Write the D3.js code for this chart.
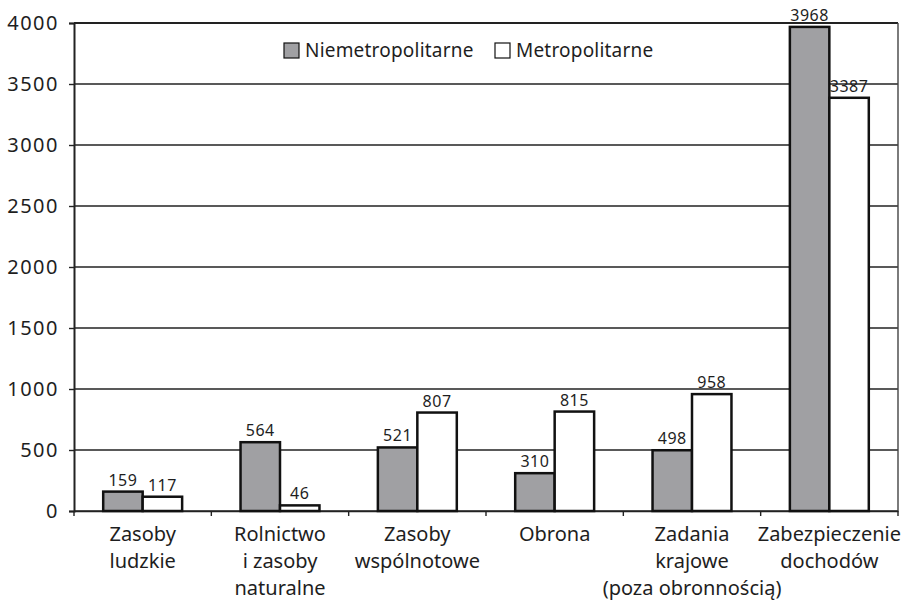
<!DOCTYPE html>
<html>
<head>
<meta charset="utf-8">
<script src="https://cdn.jsdelivr.net/npm/d3@7"></script>
<style>
  body { margin: 0; background: #fff; }
  text { font-family: "Noto Sans", sans-serif; fill: #1e1e1e; }
</style>
</head>
<body>
<div id="chart"></div>
<script>
/* DATA */

var categories = [
  ["Zasoby", "ludzkie"],
  ["Rolnictwo", "i zasoby", "naturalne"],
  ["Zasoby", "wspólnotowe"],
  ["Obrona"],
  ["Zadania", "krajowe", "(poza obronnością)"],
  ["Zabezpieczenie", "dochodów"]
];

var seriesNames = ["Niemetropolitarne", "Metropolitarne"];
var seriesColors = ["#a0a0a3", "#ffffff"];

var niemetropolitarne = [159, 564, 521, 310, 498, 3968];
var metropolitarne = [117, 46, 807, 815, 958, 3387];

var yTicks = [0, 500, 1000, 1500, 2000, 2500, 3000, 3500, 4000];

/* CHART */

function drawChart(){

  var w = 910;
  var h = 603;
  var margin = {top: 23, right: 12, bottom: 92, left: 74};

  var svg = d3.select("#chart").append("svg")
              .attr("width", w)
              .attr("height", h);

  var keys = categories.map(function(c){ return c.join(" "); });

  var x0 = d3.scaleBand()
             .domain(keys)
             .range([margin.left, w - margin.right])
             .padding(0);

  var x1 = d3.scaleBand()
             .domain(seriesNames)
             .range([0, x0.bandwidth()])
             .paddingInner(0)
             .paddingOuter(0.74);

  var y = d3.scaleLinear()
            .domain([0, 4000])
            .range([h - margin.bottom, margin.top]);

  // gridlines
  svg.append("g")
     .selectAll("line")
     .data(yTicks)
     .enter().append("line")
     .attr("x1", margin.left)
     .attr("x2", w - margin.right)
     .attr("y1", function(d){ return y(d); })
     .attr("y2", function(d){ return y(d); })
     .attr("stroke", "#222")
     .attr("stroke-width", function(d){ return d === 4000 ? 2 : 1.4; });

  // right border
  svg.append("line")
     .attr("x1", w - margin.right)
     .attr("x2", w - margin.right)
     .attr("y1", y(4000))
     .attr("y2", y(0))
     .attr("stroke", "#444")
     .attr("stroke-width", 1.4);

  // y axis
  var yAxis = d3.axisLeft(y)
                .tickValues(yTicks)
                .tickFormat(d3.format("d"))
                .tickSize(5)
                .tickPadding(10);

  var gy = svg.append("g")
              .attr("transform", "translate(" + margin.left + ",0)")
              .call(yAxis);

  gy.select(".domain").attr("stroke", "#222").attr("stroke-width", 2);
  gy.selectAll(".tick line").attr("stroke", "#222").attr("stroke-width", 1.4);
  gy.selectAll(".tick text")
    .style("font-size", "20px")
    .style("letter-spacing", "1.5px")
    .style("font-family", "'Noto Sans', sans-serif")
    .attr("fill", "#1e1e1e");

  // x axis
  var xAxis = d3.axisBottom(x0)
                .tickSize(0)
                .tickFormat("");

  var gx = svg.append("g")
              .attr("transform", "translate(0," + y(0) + ")")
              .call(xAxis);

  gx.select(".domain").attr("stroke", "#222").attr("stroke-width", 1.6);

  // category boundary ticks
  var bounds = keys.map(function(k){ return x0(k); }).concat([x0(keys[keys.length-1]) + x0.bandwidth()]);
  gx.selectAll("line.bound")
    .data(bounds)
    .enter().append("line")
    .attr("class", "bound")
    .attr("x1", function(d){ return d; })
    .attr("x2", function(d){ return d; })
    .attr("y1", 0)
    .attr("y2", 5)
    .attr("stroke", "#222")
    .attr("stroke-width", 1.4);

  // category labels
  var catLabels = svg.append("g")
                     .selectAll("text")
                     .data(categories)
                     .enter().append("text")
                     .attr("text-anchor", "middle")
                     .style("font-size", "20px")
                     .attr("transform", function(d, i){
                       return "translate(" + (x0(keys[i]) + x0.bandwidth()/2) + "," + (y(0) + 30) + ")";
                     });

  catLabels.selectAll("tspan")
           .data(function(d){ return d; })
           .enter().append("tspan")
           .attr("x", 0)
           .attr("dy", function(d, i){ return i === 0 ? 0 : 27; })
           .text(function(d){ return d; });

  // bars
  var rows = keys.map(function(k, i){
    return {key: k, values: [niemetropolitarne[i], metropolitarne[i]]};
  });

  var groups = svg.append("g")
                  .selectAll("g")
                  .data(rows)
                  .enter().append("g")
                  .attr("transform", function(d){ return "translate(" + x0(d.key) + ",0)"; });

  groups.selectAll("rect")
        .data(function(d){ return d.values.map(function(v, j){ return {name: seriesNames[j], value: v, j: j}; }); })
        .enter().append("rect")
        .attr("x", function(d){ return x1(d.name); })
        .attr("y", function(d){ return y(d.value); })
        .attr("width", x1.bandwidth())
        .attr("height", function(d){ return y(0) - y(d.value); })
        .attr("fill", function(d){ return seriesColors[d.j]; })
        .attr("stroke", "#111")
        .attr("stroke-width", 2.5);

  groups.selectAll("text")
        .data(function(d){ return d.values.map(function(v, j){ return {name: seriesNames[j], value: v}; }); })
        .enter().append("text")
        .attr("x", function(d){ return x1(d.name) + x1.bandwidth()/2; })
        .attr("y", function(d){ return y(d.value) - 6; })
        .attr("text-anchor", "middle")
        .style("font-size", "16px")
        .style("letter-spacing", "0.5px")
        .text(function(d){ return d.value; });

  // legend
  var legend = svg.append("g")
                  .attr("transform", "translate(284,43)");

  var legendX = [0, 211];

  var items = legend.selectAll("g")
                    .data(seriesNames)
                    .enter().append("g")
                    .attr("transform", function(d, i){ return "translate(" + legendX[i] + ",0)"; });

  items.append("rect")
       .attr("width", 15)
       .attr("height", 15)
       .attr("fill", function(d, i){ return seriesColors[i]; })
       .attr("stroke", "#111")
       .attr("stroke-width", 1.2);

  items.append("text")
       .attr("x", 21)
       .attr("y", 14)
       .style("font-size", "19px")
       .style("letter-spacing", "0.2px")
       .text(function(d){ return d; });

};

drawChart();
</script>
</body>
</html>
